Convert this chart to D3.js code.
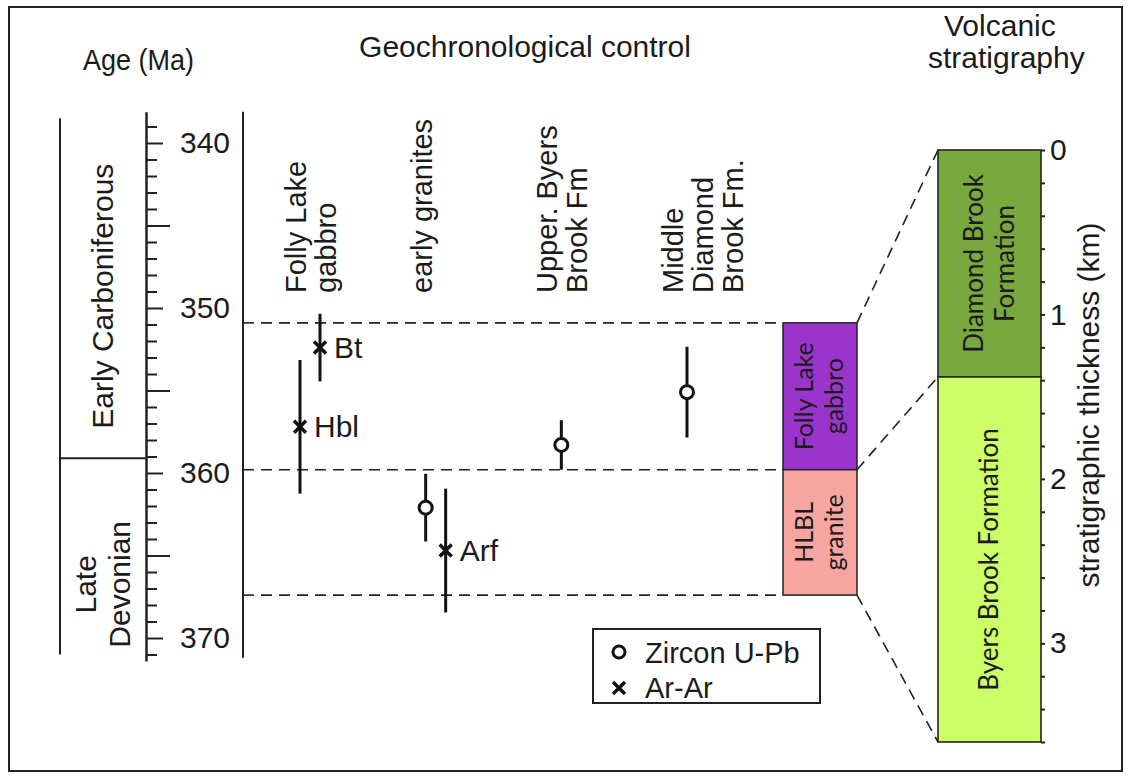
<!DOCTYPE html>
<html>
<head>
<meta charset="utf-8">
<script src="https://cdn.jsdelivr.net/npm/d3@7"></script>
<style>
body { margin: 0; background: #fff; }
svg text { font-family: "Liberation Sans", Arial, sans-serif; fill: #1b1b1b; }
svg text.boxtxt { font-family: Lato, "Open Sans", sans-serif; }
</style>
</head>
<body>
<script>
// ---- values ----
var columns = ["Folly Lake gabbro", "early granites", "Upper Byers Brook Fm", "Middle Diamond Brook Fm"];
var columnLines = [["Folly Lake", "gabbro"], ["early granites"], ["Upper. Byers", "Brook Fm"], ["Middle", "Diamond", "Brook Fm."]];

var sampleColumn = ["Folly Lake gabbro", "Folly Lake gabbro", "early granites", "early granites", "Upper Byers Brook Fm", "Middle Diamond Brook Fm"];
var sampleMethod = ["Ar-Ar", "Ar-Ar", "U-Pb", "Ar-Ar", "U-Pb", "U-Pb"];
var sampleMineral = ["Hbl", "Bt", "", "Arf", "", ""];
var sampleAge = [357.2, 352.4, 362.1, 364.7, 358.3, 355.1];
var sampleErr = [4.05, 2.05, 2.05, 3.75, 1.5, 2.75];

var periodNames = [["Early Carboniferous"], ["Late", "Devonian"]];
var periodTop = [338.5, 359.1];
var periodBase = [359.1, 371.0];

var ageLabels = [340, 350, 360, 370];
var correlationAges = [350.9, 359.8, 367.4];

var intrusionLines = [["Folly Lake", "gabbro"], ["HLBL", "granite"]];
var intrusionTop = [350.9, 359.8];
var intrusionBase = [359.8, 367.4];
var intrusionColors = ["#9b34cc", "#f7a5a0"];
var intrusionTextColors = ["#2a0b3a", "#3d1414"];

var formationLines = [["Diamond Brook", "Formation"], ["Byers Brook Formation"]];
var formationTop = [0, 1.38];
var formationBase = [1.38, 3.6];
var formationColors = ["#78a83e", "#ccff66"];

var thicknessLabels = [0, 1, 2, 3];
var legendItems = ["Zircon U-Pb", "Ar-Ar"];

// ---- drawing ----
var width = 1131, height = 778;
var svg = d3.select("body").append("svg")
    .attr("width", width)
    .attr("height", height);

function label(g, s, x, y, size, rot, anchor, sx) {
    var tr = "translate(" + x + "," + y + ")";
    if (rot) tr += " rotate(" + rot + ")";
    if (sx) tr += " scale(" + sx + ",1)";
    return g.append("text")
        .attr("transform", tr)
        .attr("font-size", size)
        .attr("text-anchor", anchor || "start")
        .text(s);
}

// outer frame
svg.append("rect")
    .attr("x", 9).attr("y", 7)
    .attr("width", 1113).attr("height", 764)
    .attr("fill", "none").attr("stroke", "#222").attr("stroke-width", 2);

var ageY = d3.scaleLinear().domain([340, 370]).range([143, 638]);
var thickY = d3.scaleLinear().domain([0, 3.6]).range([150, 742]);
var colX = d3.scalePoint().domain(columns).range([310, 687]);

// headings
label(svg, "Age (Ma)", 83, 70, 30, 0, "start", 0.9);
label(svg, "Geochronological control", 525, 57, 30, 0, "middle");
label(svg, "Volcanic", 944, 36, 30, 0, "start");
label(svg, "stratigraphy", 928, 68, 30, 0, "start");

// period column
var periods = svg.append("g");
var periodShift = [8, 28];
periods.append("line")
    .attr("x1", 60).attr("x2", 60)
    .attr("y1", ageY(periodTop[0])).attr("y2", ageY(periodBase[1]))
    .attr("stroke", "#222").attr("stroke-width", 2);
periods.append("line")
    .attr("x1", 60).attr("x2", 146)
    .attr("y1", ageY(periodBase[0])).attr("y2", ageY(periodBase[0]))
    .attr("stroke", "#222").attr("stroke-width", 2);
periodNames.forEach(function (lines, i) {
    var cy = (ageY(periodTop[i]) + ageY(periodBase[i])) / 2 + periodShift[i];
    lines.forEach(function (s, j) {
        var bx = 113 - (lines.length - 1) * 17 + j * 34;
        label(periods, s, bx, cy, 30, -90, "middle");
    });
});

// age axis
var axisScale = ageY.copy().domain([338.1, 371.4]).range([ageY(338.1), ageY(371.4)]);
var ageAxis = svg.append("g")
    .attr("transform", "translate(146,0)")
    .call(d3.axisRight(axisScale)
        .tickValues(d3.range(339, 372))
        .tickSize(11)
        .tickSizeOuter(0)
        .tickPadding(34)
        .tickFormat(function (d) { return ageLabels.indexOf(d) >= 0 ? d : ""; }));
ageAxis.select(".domain").attr("stroke", "#222").attr("stroke-width", 2.5);
ageAxis.selectAll(".tick line")
    .attr("stroke", "#222").attr("stroke-width", 2)
    .attr("x2", function (d) { return d % 10 === 0 ? 17 : (d % 5 === 0 ? 24 : 11); });
ageAxis.selectAll(".tick text")
    .attr("font-size", 30)
    .attr("fill", "#1b1b1b")
    .attr("x", 34);

// second vertical line
svg.append("line")
    .attr("x1", 243).attr("x2", 243)
    .attr("y1", ageY(338.1)).attr("y2", ageY(371.2))
    .attr("stroke", "#222").attr("stroke-width", 2);

// dashed correlation lines
svg.append("g").selectAll("line")
    .data(correlationAges)
    .enter().append("line")
    .attr("x1", 243).attr("x2", 783)
    .attr("y1", function (d) { return ageY(d); })
    .attr("y2", function (d) { return ageY(d); })
    .attr("stroke", "#222").attr("stroke-width", 1.6)
    .attr("stroke-dasharray", "11,7");

// column headings
var heads = svg.append("g");
columns.forEach(function (c, i) {
    columnLines[i].forEach(function (s, j) {
        label(heads, s, colX(c) - 4 + j * 30, 293, 29, -90, "start");
    });
});

// samples
var samples = sampleAge.map(function (a, i) {
    return {col: sampleColumn[i], method: sampleMethod[i], mineral: sampleMineral[i], age: a, err: sampleErr[i]};
});
samples.forEach(function (d) {
    var same = samples.filter(function (e) { return e.col === d.col; });
    var k = same.indexOf(d);
    d.x = colX(d.col) + (k - (same.length - 1) / 2) * 20;
});

var marks = svg.append("g");
marks.selectAll("line.err")
    .data(samples)
    .enter().append("line")
    .attr("class", "err")
    .attr("x1", function (d) { return d.x; })
    .attr("x2", function (d) { return d.x; })
    .attr("y1", function (d) { return ageY(d.age - d.err); })
    .attr("y2", function (d) { return ageY(d.age + d.err); })
    .attr("stroke", "#111").attr("stroke-width", 3);

var crossPath = "M-6,-6L6,6M-6,6L6,-6";
marks.selectAll("path.arar")
    .data(samples.filter(function (d) { return d.method === "Ar-Ar"; }))
    .enter().append("path")
    .attr("class", "arar")
    .attr("d", crossPath)
    .attr("transform", function (d) { return "translate(" + d.x + "," + ageY(d.age) + ")"; })
    .attr("stroke", "#111").attr("stroke-width", 3.5);
marks.selectAll("circle.zircon")
    .data(samples.filter(function (d) { return d.method === "U-Pb"; }))
    .enter().append("circle")
    .attr("class", "zircon")
    .attr("cx", function (d) { return d.x; })
    .attr("cy", function (d) { return ageY(d.age); })
    .attr("r", 6.5)
    .attr("fill", "#fff").attr("stroke", "#111").attr("stroke-width", 3);
samples.filter(function (d) { return d.mineral; }).forEach(function (d) {
    label(marks, d.mineral, d.x + 14, ageY(d.age) + 10, 30, 0, "start");
});

// intrusion boxes
var intr = svg.append("g");
intrusionLines.forEach(function (lines, i) {
    var y0 = ageY(intrusionTop[i]), y1 = ageY(intrusionBase[i]);
    intr.append("rect")
        .attr("x", 783).attr("y", y0)
        .attr("width", 74).attr("height", y1 - y0)
        .attr("fill", intrusionColors[i])
        .attr("stroke", "#222").attr("stroke-width", 1.5);
    lines.forEach(function (s, j) {
        intr.append("text")
            .attr("class", "boxtxt")
            .attr("transform", "translate(" + (828 - (lines.length - 1) * 15 + j * 30) + "," + (y0 + y1) / 2 + ") rotate(-90)")
            .attr("font-size", 25)
            .attr("text-anchor", "middle")
            .attr("fill", intrusionTextColors[i])
            .text(s);
    });
});

// connectors to the stratigraphic column
var links = [
    [intrusionTop[0], formationTop[0]],
    [intrusionBase[0], formationBase[0]],
    [intrusionBase[1], formationBase[1]]
];
svg.append("g").selectAll("line")
    .data(links)
    .enter().append("line")
    .attr("x1", 857).attr("x2", 938)
    .attr("y1", function (d) { return ageY(d[0]); })
    .attr("y2", function (d) { return thickY(d[1]); })
    .attr("stroke", "#222").attr("stroke-width", 1.6)
    .attr("stroke-dasharray", "11,7");

// stratigraphic column
var strat = svg.append("g");
formationLines.forEach(function (lines, i) {
    var y0 = thickY(formationTop[i]), y1 = thickY(formationBase[i]);
    strat.append("rect")
        .attr("x", 938).attr("y", y0)
        .attr("width", 103).attr("height", y1 - y0)
        .attr("fill", formationColors[i])
        .attr("stroke", "#222").attr("stroke-width", 1.6);
    lines.forEach(function (s, j) {
        strat.append("text")
            .attr("class", "boxtxt")
            .attr("transform", "translate(" + (998 - (lines.length - 1) * 15.5 + j * 31) + "," + (y0 + y1) / 2 + ") rotate(-90)")
            .attr("font-size", 26)
            .attr("text-anchor", "middle")
            .attr("fill", "#1f330d")
            .text(s);
    });
});

var thickAxis = svg.append("g")
    .attr("transform", "translate(1041,0)")
    .call(d3.axisRight(thickY)
        .tickValues(d3.range(0, 3.61, 0.2))
        .tickSize(4)
        .tickSizeOuter(0)
        .tickFormat(function (d) { var r = Math.round(d * 10) / 10; return thicknessLabels.indexOf(r) >= 0 ? r : ""; }));
thickAxis.select(".domain").remove();
thickAxis.selectAll(".tick line").attr("stroke", "#222").attr("stroke-width", 2);
thickAxis.selectAll(".tick text")
    .attr("font-size", 30)
    .attr("fill", "#1b1b1b")
    .attr("x", 9);
label(svg, "stratigraphic thickness (km)", 1099, 405, 30, -90, "middle");

// legend
var leg = svg.append("g");
leg.append("rect")
    .attr("x", 593).attr("y", 629)
    .attr("width", 227).attr("height", 74)
    .attr("fill", "#fff").attr("stroke", "#222").attr("stroke-width", 2);
leg.append("circle")
    .attr("cx", 619).attr("cy", 652).attr("r", 6)
    .attr("fill", "#fff").attr("stroke", "#111").attr("stroke-width", 3);
leg.append("path")
    .attr("d", crossPath)
    .attr("transform", "translate(619,688)")
    .attr("stroke", "#111").attr("stroke-width", 3.5);
legendItems.forEach(function (s, i) {
    label(leg, s, 645, 663 + i * 35, 29, 0, "start");
});
</script>
</body>
</html>
